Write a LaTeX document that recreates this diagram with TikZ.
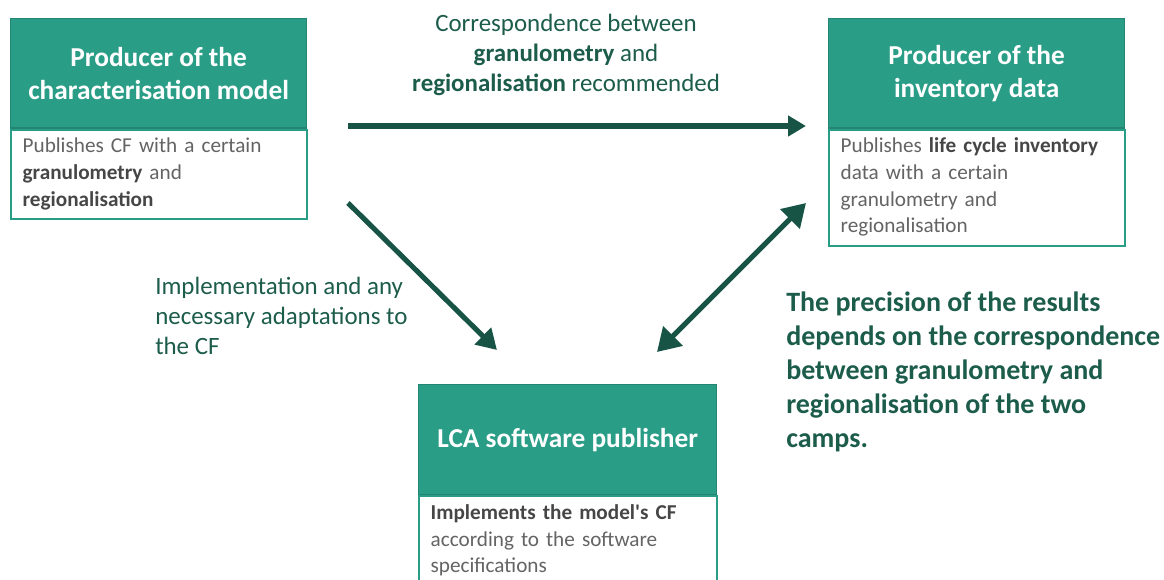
\documentclass[tikz,border=0pt]{standalone}
\usepackage{fontspec}
\setmainfont{Carlito}
\usetikzlibrary{arrows.meta,positioning}

\definecolor{headteal}{RGB}{42,157,135}
\definecolor{arrowgreen}{RGB}{24,84,70}
\definecolor{labelgreen}{RGB}{28,92,74}
\definecolor{bodygray}{RGB}{100,100,100}
\definecolor{boldgray}{RGB}{70,70,70}

\tikzset{
  head/.style={fill=headteal, draw=headteal!85!black, line width=1pt, text=white,
    font=\bfseries\fontsize{20.5}{24.75}\selectfont, align=center,
    minimum width=222pt, minimum height=82pt, inner sep=0pt, anchor=north west},
  body/.style={draw=headteal, line width=1.5pt, fill=white, text=bodygray,
    font=\fontsize{15.9}{19.9}\selectfont, align=left, text width=204pt,
    inner xsep=9pt, inner ysep=6pt, anchor=north, text height=11.5pt},
  flow/.style={draw=arrowgreen, line width=3.8pt},
  lbl/.style={text=labelgreen, font=\fontsize{18.7}{22.5}\selectfont, inner sep=0pt},
}
\newcommand{\hl}[1]{\textcolor{boldgray}{\textbf{#1}}}

\begin{document}
\begin{tikzpicture}[x=0.75pt,y=-0.75pt]
\useasboundingbox (0,0) rectangle (1164,580);

% characterisation model
\node[head] (model) at (10,18) {Producer of the\\characterisation model};
\node[body, text depth=43.5pt, below=0pt of model.south] (modelbody)
  {Publishes CF with a certain\\\hl{granulometry} and\\\hl{regionalisation}};

% inventory data
\node[head] (inv) at (828,18) {Producer of the\\inventory data};
\node[body, text depth=63.5pt, below=0pt of inv.south] (invbody)
  {Publishes \hl{life cycle inventory}\\data with a certain\\granulometry and\\regionalisation};

% LCA software
\node[head, minimum width=223.5pt, minimum height=82.5pt] (soft) at (418,384) {LCA software publisher};
\node[body, text width=205.5pt, text depth=55pt, below=0pt of soft.south] (softbody)
  {\hl{Implements the model\textquotesingle s CF}\\according to the software\\specifications};

% arrow ends
\coordinate (a1s) at (348,126);
\coordinate (a1e) at (806,126);
\coordinate (a2s) at (348,203);
\coordinate (a2e) at (497,350);
\coordinate (a3s) at (806,203);
\coordinate (a3e) at (657,352);

\draw[flow, -{Triangle[length=13.5pt,width=15pt]}] (a1s) -- (a1e);
\draw[flow, -{Triangle[length=15pt,width=17pt]}] (a2s) -- (a2e);
\draw[flow, {Triangle[length=17pt,width=20pt]}-{Triangle[length=17pt,width=20pt]}] (a3e) -- (a3s);

% labels
\node[lbl, align=center] (corr) at (566,55)
  {Correspondence between\\\textbf{granulometry} and\\\textbf{regionalisation} recommended};
\node[lbl, align=left, anchor=west] (impl) at (155,316)
  {Implementation and any\\necessary adaptations to\\the CF};
\node[lbl, align=left, anchor=west, font=\bfseries\fontsize{21}{25.5}\selectfont] (prec) at (786,372)
  {The precision of the results\\depends on the correspondence\\between granulometry and\\regionalisation of the two\\camps.};
\end{tikzpicture}
\end{document}
